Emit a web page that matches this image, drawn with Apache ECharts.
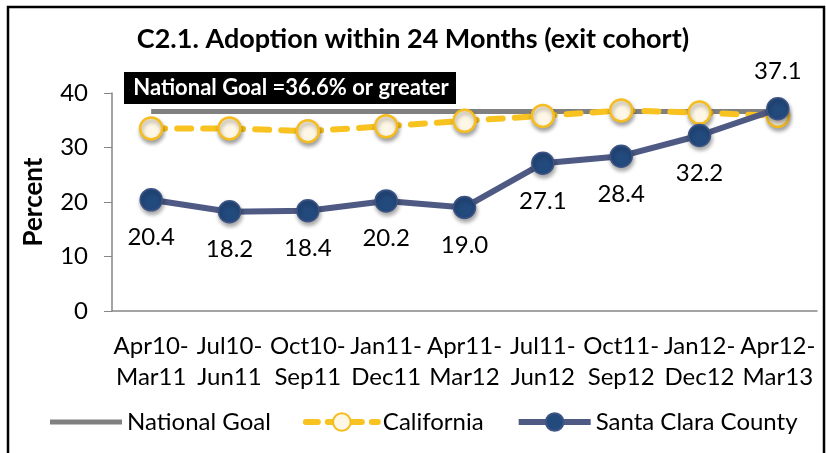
<!DOCTYPE html>
<html>
<head>
<meta charset="utf-8">
<script src="https://cdn.jsdelivr.net/npm/echarts@6/dist/echarts.min.js"></script>
<style>
html,body{margin:0;padding:0;background:#fff;}
#c{width:826px;height:453px;}
</style>
</head>
<body>
<div id="c"></div>
<script>
// ---- data ----
var categories = ["Apr10-\nMar11","Jul10-\nJun11","Oct10-\nSep11","Jan11-\nDec11","Apr11-\nMar12","Jul11-\nJun12","Oct11-\nSep12","Jan12-\nDec12","Apr12-\nMar13"];
var nationalGoal = [36.6, 36.6, 36.6, 36.6, 36.6, 36.6, 36.6, 36.6, 36.6];
var california = [33.5, 33.5, 33.0, 33.9, 34.9, 35.8, 36.8, 36.4, 35.8];
var santaClara = [20.4, 18.2, 18.4, 20.2, 19.0, 27.1, 28.4, 32.2, 37.1];
var labelAbove = [false, false, false, false, false, false, false, false, true];
var yTicks = [0, 10, 20, 30, 40];
var seriesNames = ["National Goal", "California", "Santa Clara County"];
var titleText = "C2.1. Adoption within 24 Months (exit cohort)";
var goalNote = "National Goal =36.6% or greater";

var FONT = "Lato";
var chart = echarts.init(document.getElementById('c'), null, {renderer: 'canvas'});
var shadow = {shadowColor: 'rgba(0,0,0,0.35)', shadowBlur: 4, shadowOffsetX: 1, shadowOffsetY: 3};

var scData = santaClara.map(function(v, i){
  return labelAbove[i] ? {value: v, label: {position: 'top'}} : v;
});

chart.setOption({
  animation: false,
  textStyle: {fontFamily: FONT, color: '#000'},
  title: {
    text: titleText, left: 'center', top: 21,
    textStyle: {fontFamily: FONT, fontWeight: 'bold', fontSize: 27, color: '#000'}
  },
  graphic: [
    {type: 'rect', shape: {x: 8, y: 7, width: 816, height: 460}, style: {fill: 'none', stroke: '#000', lineWidth: 2.5}, z: 100},
    {type: 'rect', shape: {x: 124, y: 72, width: 332, height: 32}, style: {fill: '#000'}, z: 50},
    {type: 'text', x: 291, y: 88, style: {text: goalNote, fill: '#fff', font: 'bold 22px ' + FONT, textAlign: 'center', textVerticalAlign: 'middle'}, z: 51}
  ],
  legend: {
    left: 45, top: 405,
    itemWidth: 72, itemHeight: 22, itemGap: 32,
    textStyle: {fontFamily: FONT, fontSize: 24, color: '#000'},
    lineStyle: {width: 6},
    data: [
      {name: seriesNames[0], icon: 'path://M0,0 L72,0 L72,5 L0,5 Z', itemStyle: {color: '#808080'}},
      {name: seriesNames[1], lineStyle: {width: 6, color: '#F8C320', type: [12, 10]}},
      {name: seriesNames[2], lineStyle: {width: 6, color: '#4E5A84'}}
    ]
  },
  grid: {left: 112, right: 9, top: 93, bottom: 142},
  xAxis: {
    type: 'category', data: categories, boundaryGap: true,
    axisLine: {lineStyle: {color: '#868686', width: 1.5}},
    axisTick: {alignWithLabel: true, inside: true, length: 6, lineStyle: {color: '#868686'}},
    axisLabel: {fontFamily: FONT, fontSize: 24, color: '#000', margin: 20, lineHeight: 31, interval: 0}
  },
  yAxis: {
    type: 'value', min: 0, max: 40, interval: 10,
    name: 'Percent', nameLocation: 'middle', nameGap: 65,
    nameTextStyle: {fontFamily: FONT, fontWeight: 'bold', fontSize: 26, color: '#000'},
    axisLine: {show: true, lineStyle: {color: '#868686', width: 1.5}},
    axisTick: {show: true, length: 8, lineStyle: {color: '#868686'}},
    axisLabel: {fontFamily: FONT, fontSize: 24, color: '#000', margin: 24,
      formatter: function(v){ return yTicks.indexOf(v) >= 0 ? String(v) : ''; }},
    splitLine: {show: false}
  },
  series: [
    {
      name: seriesNames[0], type: 'line', data: nationalGoal,
      symbol: 'none', showSymbol: false,
      lineStyle: {color: '#808080', width: 5},
      itemStyle: {color: '#808080'}, z: 1
    },
    {
      name: seriesNames[1], type: 'line', data: california,
      symbol: 'circle', symbolSize: 22,
      lineStyle: {color: '#F8C320', width: 6, type: [14, 12], cap: 'round'},
      itemStyle: Object.assign({color: '#FFF7E5', borderColor: '#F5BD1F', borderWidth: 2.5}, shadow), z: 2
    },
    {
      name: seriesNames[2], type: 'line', data: scData,
      symbol: 'circle', symbolSize: 22,
      lineStyle: {color: '#4E5A84', width: 6},
      itemStyle: Object.assign({color: '#234A7D', borderColor: '#3E5484', borderWidth: 1.5}, shadow),
      label: {
        show: true, position: 'bottom', distance: 14,
        fontFamily: FONT, fontSize: 24, color: '#000',
        formatter: function(p){ return Number(p.value).toFixed(1); }
      },
      z: 3
    }
  ]
});
</script>
</body>
</html>
